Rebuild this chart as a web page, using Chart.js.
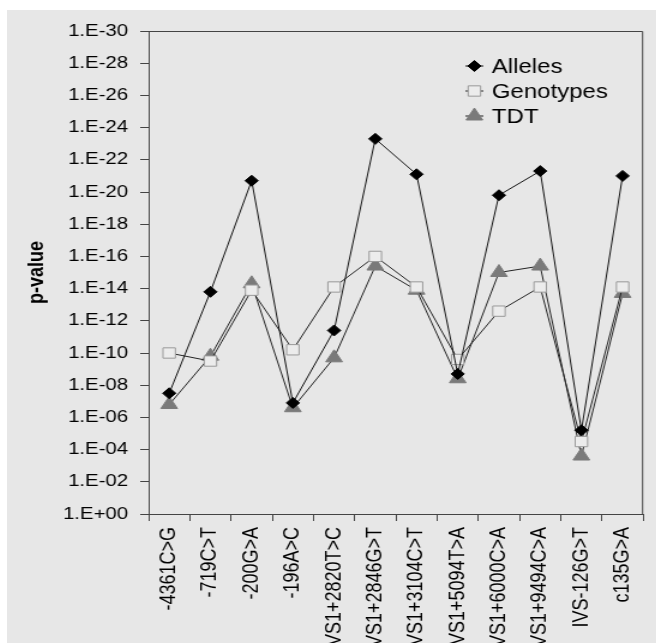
<!DOCTYPE html>
<html>
<head>
<meta charset="utf-8">
<script src="https://cdn.jsdelivr.net/npm/chart.js@4/dist/chart.umd.min.js"></script>
<style>
  body { margin: 0; background: #fff; overflow: hidden; }
  #wrap { position: absolute; left: 7px; top: 10px; width: 649px; height: 633px; background: #e7e7e7; overflow: hidden; }
  /* the original figure is stretched sideways, so draw narrow and stretch */
  #chart { transform: scaleX(1.2); transform-origin: 0 0; }
</style>
</head>
<body>
<div id="wrap"><canvas id="chart" width="541" height="633"></canvas></div>
<script>
// -log10(p) for each SNP
const snps = ["-4361C>G", "-719C>T", "-200G>A", "-196A>C", "IVS1+2820T>C", "IVS1+2846G>T",
  "IVS1+3104C>T", "IVS1+5094T>A", "IVS1+6000C>A", "IVS1+9494C>A", "IVS-126G>T", "c135G>A"];
const alleles   = [7.5, 13.8, 20.7, 6.9, 11.4, 23.3, 21.1, 8.7, 19.8, 21.3, 5.2, 21.0];
const genotypes = [10.0, 9.5, 13.9, 10.2, 14.1, 16.0, 14.1, 9.6, 12.6, 14.1, 4.5, 14.1];
const tdt       = [6.8, 9.8, 14.3, 6.6, 9.7, 15.4, 13.9, 8.4, 15.0, 15.4, 3.6, 13.7];
const yTicks = [0, 2, 4, 6, 8, 10, 12, 14, 16, 18, 20, 22, 24, 26, 28, 30];

const fmt = v => v === 0 ? "1.E+00" : "1.E-" + String(v).padStart(2, "0");
const FONT = "'Liberation Sans', Arial, sans-serif";

// frame on top/right + legend inside the plot
const extras = {
  id: "extras",
  afterDraw(chart) {
    const { ctx, chartArea: a } = chart;
    ctx.save();
    ctx.strokeStyle = "#444";
    ctx.lineWidth = 1;
    ctx.beginPath();
    ctx.moveTo(a.left, a.top + 0.5);
    ctx.lineTo(a.right - 0.5, a.top + 0.5);
    ctx.lineTo(a.right - 0.5, a.bottom);
    ctx.stroke();

    const x0 = a.left + 264, y0 = a.top + 35, gap = 25;
    chart.data.datasets.forEach((ds, i) => {
      const y = y0 + i * gap;
      ctx.strokeStyle = ds.borderColor;
      ctx.lineWidth = 1;
      ctx.beginPath();
      ctx.moveTo(x0, y);
      ctx.lineTo(x0 + 15, y);
      ctx.stroke();
      ctx.fillStyle = ds.pointBackgroundColor;
      ctx.strokeStyle = ds.pointBorderColor;
      Chart.helpers.drawPoint(ctx, { pointStyle: ds.pointStyle, radius: ds.pointRadius, borderWidth: 1 }, x0 + 7.5, y);
      ctx.fillStyle = "#000";
      ctx.font = "20px " + FONT;
      ctx.textBaseline = "middle";
      ctx.fillText(ds.label, x0 + 22, y + 1);
    });
    ctx.restore();
  }
};

new Chart(document.getElementById("chart"), {
  type: "line",
  data: {
    labels: snps,
    datasets: [
      { label: "Alleles", data: alleles, borderColor: "#111", borderWidth: 1,
        pointStyle: "rectRot", pointRadius: 5.5, pointBackgroundColor: "#000", pointBorderColor: "#000" },
      { label: "Genotypes", data: genotypes, borderColor: "#222", borderWidth: 1,
        pointStyle: "rect", pointRadius: 7.3, pointBackgroundColor: "#ececec", pointBorderColor: "#999" },
      { label: "TDT", data: tdt, borderColor: "#222", borderWidth: 1,
        pointStyle: "triangle", pointRadius: 8, pointBackgroundColor: "#7a7a7a", pointBorderColor: "#7a7a7a" }
    ]
  },
  options: {
    responsive: false,
    animation: false,
    layout: { padding: { top: 21, right: 9, left: 0, bottom: 0 } },
    plugins: { legend: { display: false }, tooltip: { enabled: false } },
    elements: { line: { tension: 0 } },
    scales: {
      x: {
        offset: true,
        grid: { offset: true, drawOnChartArea: false, drawTicks: true, tickLength: 7, color: "#444" },
        border: { color: "#444" },
        ticks: { maxRotation: 90, minRotation: 90, autoSkip: false, color: "#000", padding: 6,
          font: { size: 18, family: FONT } },
        afterFit(s) { s.height = 129; }
      },
      y: {
        min: 0, max: 30,
        afterBuildTicks(s) { s.ticks = yTicks.map(v => ({ value: v })); },
        grid: { drawOnChartArea: false, drawTicks: true, tickLength: 7, color: "#444" },
        border: { color: "#444" },
        ticks: { callback: v => fmt(v), color: "#000", padding: 10,
          font: { size: 17, family: FONT } },
        title: { display: true, text: "p-value", color: "#000", padding: { top: 14, bottom: 0 },
          font: { size: 18, weight: "bold", family: FONT } },
        afterFit(s) { s.width = 118; }
      }
    }
  },
  plugins: [extras]
});
</script>
</body>
</html>
